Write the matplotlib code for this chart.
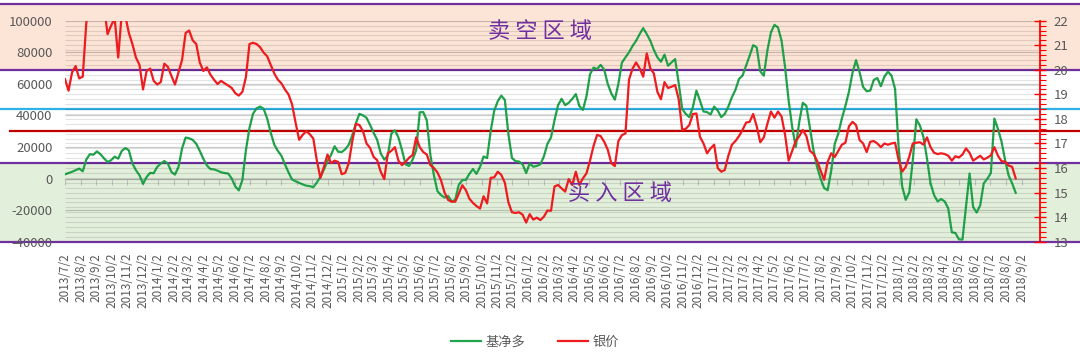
import numpy as np
import pandas as pd
import matplotlib
matplotlib.use('Agg')
import matplotlib.pyplot as plt
import matplotlib.dates as mdates
import matplotlib.transforms as mtransforms
from matplotlib.ticker import MultipleLocator
from matplotlib.patches import Rectangle
from matplotlib.lines import Line2D

plt.rcParams['font.family'] = ['Noto Sans CJK SC', 'DejaVu Sans']
plt.rcParams['axes.unicode_minus'] = False

# ---------------- data (weekly, starting 2013/7/2) ----------------
start_date = '2013-07-02'
last_tick_date = '2018-09-02'

net_long = [
    2700, 3500, 4300, 5300, 6300, 4600, 12000, 15400, 15100, 17200,
    15400, 12800, 10500, 11600, 13900, 12600, 17500, 19300, 17900, 9500,
    5300, 2100, -3400, 1000, 3600, 3400, 7400, 9500, 11100, 9500,
    4200, 2500, 7400, 19000, 26000, 25500, 24500, 22000, 17500, 12500,
    8300, 6000, 5800, 5000, 4000, 3500, 3200, 0, -5000, -7500,
    -1000, 18000, 32000, 41000, 44500, 45600, 44200, 38000, 29000, 21500,
    17500, 14500, 9000, 4000, -600, -1700, -2700, -3700, -4500, -4800,
    -5500, -2500, 1000, 5800, 11000, 15000, 20500, 17000, 16800, 18500,
    21500, 27500, 35000, 41000, 40000, 38500, 34000, 29000, 24500, 16000,
    12000, 14500, 28500, 30500, 26000, 18000, 9000, 8000, 12000, 18000,
    42000, 42100, 36800, 15000, 2000, -8000, -10500, -12000, -11000, -14500,
    -13500, -4000, -1000, -800, 3000, 6000, 3000, 7400, 14000, 13000,
    30000, 43000, 49000, 52500, 49800, 28000, 13000, 11000, 10800, 9000,
    3500, 9500, 7500, 8000, 9000, 14000, 22000, 26000, 37000, 46500,
    50500, 46500, 48000, 50500, 53500, 46000, 43500, 52000, 66000, 70300,
    69400, 72000, 69000, 60000, 54000, 50000, 60000, 73500, 76800, 80000,
    84000, 87300, 91500, 95300, 91500, 87300, 81500, 76800, 74000, 78500,
    71500, 73600, 75700, 60500, 44000, 41000, 38900, 45200, 55700, 49400,
    42500, 42100, 40600, 45600, 43100, 38900, 41000, 45600, 51500, 56200,
    63100, 65200, 71500, 77800, 84500, 83100, 67900, 65200, 81000, 92500,
    97400, 95700, 87300, 70400, 49400, 32600, 20000, 36000, 48000, 46000,
    32000, 18000, 7500, 0, -6000, -7400, 5000, 22000, 28500, 38000,
    46000, 55000, 67000, 75000, 67300, 58000, 55300, 55700, 62500, 63700,
    58500, 64600, 67700, 65200, 56800, 20000, -5000, -13500, -8800, 11600,
    37500, 33600, 26300, 12600, -3000, -10500, -14500, -13000, -14500, -19000,
    -34000, -34500, -38500, -38700, -17900, 3200, -18000, -21500, -17000, -3000,
    -200, 3500, 38000, 31500, 23500, 12000, 2000, -3000, -9000,
]

silver = [
    19.62, 19.15, 19.90, 20.15, 19.65, 19.72, 21.90, 23.00, 23.80, 24.30,
    23.50, 22.60, 21.45, 21.80, 22.10, 20.50, 22.30, 22.20, 21.50, 21.05,
    20.50, 20.20, 19.20, 19.95, 20.05, 19.55, 19.40, 19.50, 20.25, 20.12,
    19.75, 19.40, 19.90, 20.40, 21.50, 21.60, 21.20, 21.05, 20.30, 19.95,
    20.10, 19.80, 19.60, 19.42, 19.55, 19.45, 19.36, 19.26, 19.05, 18.95,
    19.10, 19.70, 21.05, 21.10, 21.05, 20.92, 20.70, 20.55, 20.20, 19.85,
    19.60, 19.45, 19.20, 19.00, 18.60, 17.85, 17.15, 17.35, 17.50, 17.38,
    17.20, 16.30, 15.60, 16.05, 16.55, 16.20, 16.30, 16.25, 15.75, 15.80,
    16.20, 17.10, 17.80, 17.75, 17.50, 17.00, 16.82, 16.45, 16.32, 15.85,
    15.55, 16.60, 16.70, 16.85, 16.30, 16.12, 16.25, 16.42, 16.53, 17.25,
    16.85, 16.65, 16.55, 16.12, 16.00, 15.82, 15.50, 15.00, 14.70, 14.63,
    14.63, 14.95, 15.30, 15.10, 14.75, 14.58, 14.45, 14.35, 14.85, 14.56,
    15.60, 15.62, 15.85, 15.72, 15.40, 14.60, 14.20, 14.17, 14.20, 14.10,
    13.78, 14.12, 13.90, 13.98, 13.88, 14.02, 14.27, 14.26, 15.25, 15.31,
    15.17, 15.04, 15.55, 15.31, 15.85, 15.31, 15.58, 15.78, 16.30, 16.90,
    17.35, 17.30, 17.07, 16.75, 16.20, 16.08, 17.10, 17.34, 17.41, 19.60,
    20.05, 20.30, 20.06, 19.72, 20.67, 20.06, 19.85, 19.10, 18.80, 19.50,
    19.26, 19.31, 19.38, 18.80, 17.55, 17.60, 17.75, 18.20, 18.22, 17.27,
    17.00, 16.60, 16.80, 16.95, 16.00, 15.85, 15.92, 16.50, 16.95, 17.10,
    17.30, 17.55, 17.85, 17.88, 18.20, 17.70, 17.05, 17.25, 17.80, 18.30,
    18.05, 18.30, 18.10, 17.35, 16.30, 16.70, 17.10, 17.30, 17.55, 17.30,
    16.70, 16.58, 16.30, 15.90, 15.52, 16.25, 16.60, 16.45, 16.70, 16.95,
    17.03, 17.70, 17.88, 17.75, 17.14, 17.00, 16.65, 17.07, 17.10, 17.00,
    16.85, 17.00, 16.95, 17.00, 17.03, 16.32, 15.85, 16.05, 16.46, 17.00,
    17.03, 17.05, 16.95, 17.25, 16.85, 16.62, 16.57, 16.60, 16.57, 16.50,
    16.30, 16.48, 16.43, 16.55, 16.80, 16.62, 16.30, 16.40, 16.50, 16.35,
    16.42, 16.52, 16.85, 16.50, 16.28, 16.26, 16.10, 16.05, 15.58,
]

series_names = ['基净多', '银价']
left_ticks = [-40000, -20000, 0, 20000, 40000, 60000, 80000, 100000]
right_ticks = [13, 14, 15, 16, 17, 18, 19, 20, 21, 22]

# zone thresholds (silver price axis)
sell_level = 20.0
cyan_level = 18.4
red_level = 17.5
buy_level = 16.2

# ---------------- styling ----------------
GREEN = '#21a54b'
RED = '#ee1b1f'
PURPLE = '#7030a0'
CYAN = '#2fb2e6'
DARKRED = '#c00000'
TXT = '#595959'

start = pd.Timestamp(start_date)
dates = pd.date_range(start, periods=len(net_long), freq='7D')
x = mdates.date2num(dates)
tick_dates = pd.date_range(start - pd.Timedelta(days=1), pd.Timestamp(last_tick_date), freq='MS') + pd.Timedelta(days=1)
tick_x = mdates.date2num(tick_dates)
tick_labels = [f'{d.year}/{d.month}/{d.day}' for d in tick_dates]

W, H = 1080, 356
fig = plt.figure(figsize=(W / 100, H / 100), dpi=100)
ax_left, ax_right, ax_top, ax_bot = 65, 1040, 20.7, 241.7
ax = fig.add_axes([ax_left / W, 1 - ax_bot / H, (ax_right - ax_left) / W, (ax_bot - ax_top) / H])
ax2 = ax.twinx()
ax.patch.set_visible(False)

ax.set_ylim(-40000, 100000)
ax2.set_ylim(13, 22)
ax.set_xlim(x[0], mdates.date2num(start + pd.Timedelta(days=1924)))

# full-width background zones and threshold lines
tr = mtransforms.blended_transform_factory(fig.transFigure, ax2.transData)
top_val = 22 + (ax_top - 4) / (ax_bot - ax_top) * 9
fig.add_artist(Rectangle((0, sell_level), 1, top_val - sell_level, transform=tr,
                         facecolor='#fce4d6', edgecolor='none', zorder=-3))
fig.add_artist(Rectangle((0, 13), 1, buy_level - 13, transform=tr,
                         facecolor='#e2efda', edgecolor='none', zorder=-3))
for lvl, col, x0 in [(top_val, PURPLE, 0), (sell_level, PURPLE, 0), (cyan_level, CYAN, 0),
                     (red_level, DARKRED, 10 / W), (buy_level, PURPLE, 0), (13, PURPLE, 0)]:
    fig.add_artist(Line2D([x0, 1], [lvl, lvl], transform=tr, color=col, lw=1.6, zorder=-2))

# gridlines: fine lines every 0.2 of the price axis, main lines every 20000
minor_r = np.arange(13.2, 21.9, 0.2)
ax2.hlines(minor_r, 0, 1, transform=ax2.get_yaxis_transform(), colors='black',
           alpha=0.11, lw=0.8, zorder=0.2)
ax.set_yticks(left_ticks)
ax.set_yticklabels([str(v) for v in left_ticks])
ax.hlines(left_ticks, 0, 1, transform=ax.get_yaxis_transform(), colors='black',
          alpha=0.2, lw=0.9, zorder=0.3)
ax.tick_params(axis='y', which='both', length=0, pad=9, labelcolor=TXT, labelsize=9.5)
for s in ax.spines.values():
    s.set_visible(False)

# x tick labels at the bottom
ax.set_xticks(tick_x)
ax.set_xticklabels(tick_labels, rotation=90, fontsize=8.5, color=TXT)
ax.tick_params(axis='x', length=0, pad=8)

# zero line with monthly tick marks
sec = ax.secondary_xaxis(40000 / 140000)
sec.set_xticks(tick_x)
sec.tick_params(axis='x', direction='out', length=4, width=0.8, color='#bfbfbf',
                labelbottom=False, labeltop=False)
for k, s in sec.spines.items():
    s.set_color('#d0d0d0')
    s.set_linewidth(0.9)

# series
l1, = ax.plot(x, net_long, color=GREEN, lw=1.6, label=series_names[0], zorder=3)
l2, = ax2.plot(x, silver, color=RED, lw=1.6, label=series_names[1], zorder=3)

# right axis
ax2.set_yticks(right_ticks)
ax2.yaxis.set_minor_locator(MultipleLocator(0.2))
ax2.tick_params(axis='y', which='major', direction='inout', length=8, width=1.0,
                color='#ff0000', labelcolor=TXT, labelsize=9.5, pad=6)
ax2.tick_params(axis='y', which='minor', direction='out', length=4, width=0.8, color='#ff0000')
for k, s in ax2.spines.items():
    s.set_visible(k == 'right')
ax2.spines['right'].set_color('#ff0000')
ax2.spines['right'].set_linewidth(1.3)

# zone labels
fig.text(540 / W, 1 - 31.5 / H, '卖 空 区 域', ha='center', va='center', color=PURPLE, fontsize=16)
fig.text(620 / W, 1 - 193 / H, '买 入 区 域', ha='center', va='center', color=PURPLE, fontsize=16)

fig.legend([l1, l2], series_names, loc='center', bbox_to_anchor=(535 / W, 1 - 342 / H),
           ncol=2, frameon=False, fontsize=9.5, handlelength=2.3, handletextpad=0.3,
           columnspacing=2.5, labelcolor=TXT)

fig.savefig('out.png', dpi=100)
